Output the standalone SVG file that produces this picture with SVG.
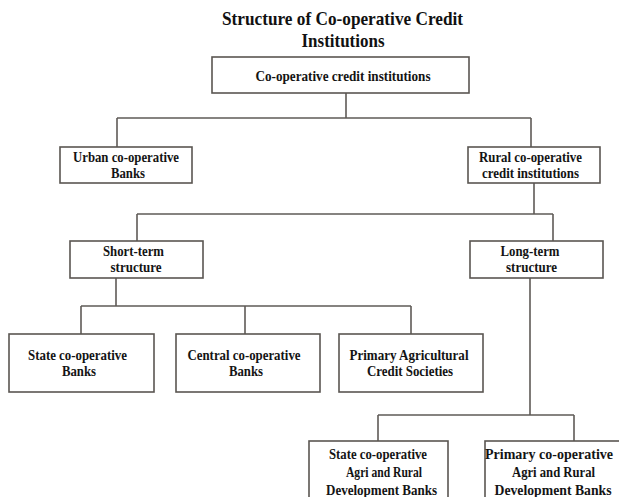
<svg xmlns="http://www.w3.org/2000/svg" width="619" height="497" viewBox="0 0 619 497">
<style>
  .box { fill: #ffffff; stroke: #5a5652; stroke-width: 1.6; }
  .lbl { font-family: "Liberation Serif", "Times New Roman", serif; font-weight: bold; font-size: 13.6px; fill: #141414; text-anchor: middle; }
  .big { font-size: 14px; }
  .title { font-family: "Liberation Serif", "Times New Roman", serif; font-weight: bold; font-size: 19px; fill: #111; text-anchor: middle; }
  .conn { fill: none; stroke: #5f5b57; stroke-width: 1.6; }
</style>
<rect width="619" height="497" fill="#ffffff"/>
<g id="title">
  <text class="title" x="342.5" y="25" textLength="241" lengthAdjust="spacingAndGlyphs">Structure of Co-operative Credit</text>
  <text class="title" x="343" y="47" textLength="83" lengthAdjust="spacingAndGlyphs">Institutions</text>
</g>
<g id="connectors">
  <path class="conn" d="M346 93 V118 M117 118 H531 M117 118 V147 M531 118 V147"/>
  <path class="conn" d="M534 183 V214 M137 214 H553 M137 214 V241 M553 214 V241"/>
  <path class="conn" d="M116 278 V306 M81 306 H411 M81 306 V334 M245 306 V334 M411 306 V334"/>
  <path class="conn" d="M530 278 V415 M378 415 H574 M378 415 V441 M574 415 V441"/>
</g>
<g id="node-root">
  <rect class="box" x="212" y="57" width="257" height="36"/>
  <text class="lbl" x="343" y="81" textLength="175" lengthAdjust="spacingAndGlyphs">Co-operative  credit institutions</text>
</g>
<g id="node-urban">
  <rect class="box" x="60" y="147" width="132" height="36"/>
  <text class="lbl" x="126" y="162" textLength="106" lengthAdjust="spacingAndGlyphs">Urban co-operative</text>
  <text class="lbl" x="128" y="178" textLength="34" lengthAdjust="spacingAndGlyphs">Banks</text>
</g>
<g id="node-rural">
  <rect class="box" x="468" y="147" width="132" height="36"/>
  <text class="lbl" x="530.5" y="162" textLength="103" lengthAdjust="spacingAndGlyphs">Rural co-operative</text>
  <text class="lbl" x="530.5" y="178" textLength="97" lengthAdjust="spacingAndGlyphs">credit institutions</text>
</g>
<g id="node-short">
  <rect class="box" x="70" y="241" width="133" height="37"/>
  <text class="lbl" x="133.5" y="256" textLength="61" lengthAdjust="spacingAndGlyphs">Short-term</text>
  <text class="lbl" x="136" y="272" textLength="51" lengthAdjust="spacingAndGlyphs">structure</text>
</g>
<g id="node-long">
  <rect class="box" x="470" y="241" width="133" height="37"/>
  <text class="lbl" x="530" y="256" textLength="59" lengthAdjust="spacingAndGlyphs">Long-term</text>
  <text class="lbl" x="531.5" y="272" textLength="51" lengthAdjust="spacingAndGlyphs">structure</text>
</g>
<g id="node-scb">
  <rect class="box" x="9" y="334" width="145" height="58"/>
  <text class="lbl" x="77.5" y="360" textLength="99" lengthAdjust="spacingAndGlyphs">State co-operative</text>
  <text class="lbl" x="79" y="376" textLength="34" lengthAdjust="spacingAndGlyphs">Banks</text>
</g>
<g id="node-ccb">
  <rect class="box" x="176" y="334" width="144" height="58"/>
  <text class="lbl" x="244" y="360" textLength="113" lengthAdjust="spacingAndGlyphs">Central co-operative</text>
  <text class="lbl" x="246" y="376" textLength="34" lengthAdjust="spacingAndGlyphs">Banks</text>
</g>
<g id="node-pacs">
  <rect class="box" x="339" y="334" width="144" height="58"/>
  <text class="lbl" x="409" y="360" textLength="119" lengthAdjust="spacingAndGlyphs">Primary Agricultural</text>
  <text class="lbl" x="410" y="376" textLength="86" lengthAdjust="spacingAndGlyphs">Credit Societies</text>
</g>
<g id="node-scard">
  <rect class="box" x="309" y="441" width="139" height="70"/>
  <text class="lbl big" x="378" y="459" textLength="98" lengthAdjust="spacingAndGlyphs">State co-operative</text>
  <text class="lbl big" x="384" y="477" textLength="76" lengthAdjust="spacingAndGlyphs">Agri and Rural</text>
  <text class="lbl big" x="381.5" y="495" textLength="111" lengthAdjust="spacingAndGlyphs">Development Banks</text>
</g>
<g id="node-pcard">
  <rect class="box" x="485" y="441" width="137" height="70"/>
  <text class="lbl big" x="549" y="459" textLength="128" lengthAdjust="spacingAndGlyphs">Primary co-operative</text>
  <text class="lbl big" x="553.5" y="477" textLength="83" lengthAdjust="spacingAndGlyphs">Agri and Rural</text>
  <text class="lbl big" x="553" y="495" textLength="117" lengthAdjust="spacingAndGlyphs">Development Banks</text>
</g>
</svg>
